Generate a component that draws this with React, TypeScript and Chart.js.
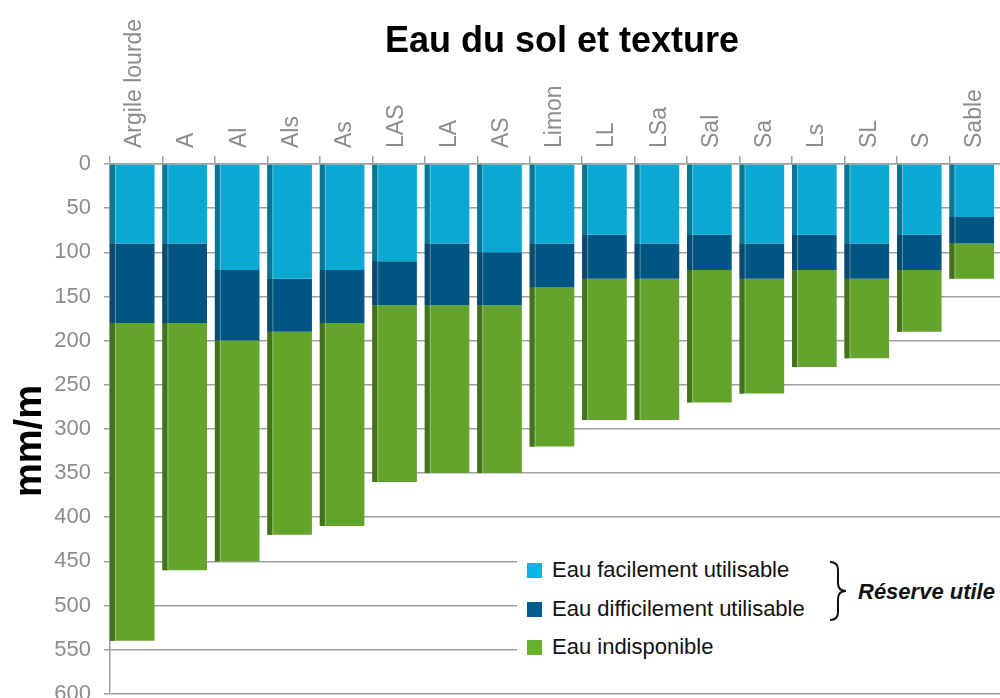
import React, { useEffect, useRef } from "react";
import { Chart, registerables } from "chart.js";

Chart.register(...registerables);

const categories = [
  "Argile lourde", "A", "Al", "Als", "As", "LAS", "LA", "AS", "Limon",
  "LL", "LSa", "Sal", "Sa", "Ls", "SL", "S", "Sable",
];
const eauFacile = [90, 90, 120, 130, 120, 110, 90, 100, 90, 80, 90, 80, 90, 80, 90, 80, 60];
const eauDifficile = [90, 90, 80, 60, 60, 50, 70, 60, 50, 50, 40, 40, 40, 40, 40, 40, 30];
const eauIndispo = [360, 280, 250, 230, 230, 200, 190, 190, 180, 160, 160, 150, 130, 110, 90, 70, 40];

const seriesLabels = ["Eau facilement utilisable", "Eau difficilement utilisable", "Eau indisponible"];
const frontColors = ["#0aa9d3", "#005683", "#63a52c"];
const sideColors = ["#0b7593", "#0a4a6e", "#44731d"];
const legendColors = ["#0ab4e4", "#015b8c", "#66b22f"];

const chartTitle = "Eau du sol et texture";
const yTitle = "mm/m";
const braceLabel = "Réserve utile";

const FONT = "'Liberation Sans', Arial, Helvetica, sans-serif";

const sidePlugin = {
  id: "side3d",
  beforeDatasetsDraw(chart: any) {
    chart.ctx.save();
    chart.ctx.translate(-4, 0);
  },
  afterDatasetsDraw(chart: any) {
    const ctx = chart.ctx;
    chart.data.datasets.forEach((ds: any, i: number) => {
      const meta = chart.getDatasetMeta(i);
      meta.data.forEach((bar: any) => {
        const left = bar.x - bar.width / 2;
        const top = Math.min(bar.y, bar.base);
        const h = Math.abs(bar.base - bar.y);
        ctx.fillStyle = sideColors[i];
        ctx.fillRect(left, top, 5, h);
        ctx.fillStyle = "rgba(255,255,255,0.35)";
        ctx.fillRect(left + 5, top, 1, h);
      });
    });
    ctx.restore();
  },
};

const titlePlugin = {
  id: "customTitle",
  afterDraw(chart: any) {
    const ctx = chart.ctx;
    const { left, right } = chart.chartArea;
    ctx.save();
    ctx.font = `bold 36px ${FONT}`;
    ctx.fillStyle = "#000";
    ctx.textAlign = "center";
    ctx.textBaseline = "middle";
    ctx.fillText(chartTitle, (left + right) / 2 + 6, 42);
    ctx.restore();
    ctx.save();
    ctx.translate(31, 441);
    ctx.rotate(-Math.PI / 2);
    ctx.font = `bold 38px ${FONT}`;
    ctx.fillStyle = "#000";
    ctx.textAlign = "center";
    ctx.textBaseline = "middle";
    ctx.fillText(yTitle, 0, 0);
    ctx.restore();
  },
};

export default function App() {
  const ref = useRef<HTMLCanvasElement>(null);

  useEffect(() => {
    const canvas = ref.current!;
    const chart = new Chart(canvas, {
      type: "bar",
      data: {
        labels: categories,
        datasets: [eauFacile, eauDifficile, eauIndispo].map((d, i) => ({
          label: seriesLabels[i],
          data: d,
          backgroundColor: frontColors[i],
          borderWidth: 0,
          barPercentage: 0.85,
          categoryPercentage: 1,
          stack: "s",
        })),
      },
      options: {
        responsive: false,
        animation: false,
        layout: { autoPadding: false, padding: { left: 0, right: 1, top: 0, bottom: 6 } },
        plugins: {
          legend: { display: false },
          title: { display: false },
          tooltip: { enabled: false },
        },
        scales: {
          x: {
            position: "top",
            stacked: true,
            grid: {
              drawOnChartArea: false,
              drawTicks: true,
              tickLength: 8,
              color: "#a0a0a0",
              lineWidth: 1.5,
            },
            border: { display: true, color: "#a0a0a0", width: 1.5 },
            ticks: {
              color: "#8c8c8c",
              font: { family: FONT, size: 23 },
              minRotation: 90,
              maxRotation: 90,
              autoSkip: false,
              padding: 8,
              labelOffset: 26,
            },
            afterFit: (s: any) => {
              s.height = 164;
            },
          },
          y: {
            reverse: true,
            stacked: true,
            min: 0,
            max: 600,
            ticks: {
              stepSize: 50,
              color: "#8c8c8c",
              font: { family: FONT, size: 22 },
              padding: 13,
            },
            grid: { color: "#a0a0a0", lineWidth: 1.5, tickLength: 6 },
            border: { display: true, color: "#a0a0a0", width: 1.5 },
            title: { display: false, text: yTitle },
            afterFit: (s: any) => {
              s.width = 110;
            },
          },
        },
      } as any,
      plugins: [sidePlugin, titlePlugin],
    });
    return () => chart.destroy();
  }, []);

  const legendTops = [570, 609, 647];

  return (
    <div
      style={{
        position: "fixed",
        left: 0,
        top: 0,
        width: 1000,
        height: 698,
        overflow: "hidden",
        background: "#fff",
        fontFamily: FONT,
      }}
    >
      <canvas ref={ref} width={1003} height={720} style={{ position: "absolute", left: 0, top: 0 }} />
      <div
        style={{
          position: "absolute",
          left: 517,
          top: 535,
          width: 483,
          height: 148,
          background: "#fff",
        }}
      >
        {seriesLabels.map((lab, i) => (
          <div
            key={lab}
            style={{
              position: "absolute",
              left: 10,
              top: legendTops[i] - 535 - 13,
              height: 26,
              display: "flex",
              alignItems: "center",
              fontSize: 22,
              color: "#111",
              whiteSpace: "nowrap",
            }}
          >
            <span
              style={{
                display: "inline-block",
                width: 15,
                height: 15,
                background: legendColors[i],
                marginRight: 10,
              }}
            />
            {lab}
          </div>
        ))}
        <svg
          width={40}
          height={70}
          style={{ position: "absolute", left: 825 - 517, top: 555 - 535 }}
        >
          <path
            d="M 5 7 Q 13 7 13 15 L 13 28 Q 13 36 21 36 Q 13 36 13 44 L 13 57 Q 13 65 5 65"
            fill="none"
            stroke="#111"
            strokeWidth={2}
          />
        </svg>
        <div
          style={{
            position: "absolute",
            left: 858 - 517,
            top: 592 - 535 - 13,
            height: 26,
            lineHeight: "26px",
            fontSize: 22,
            fontWeight: "bold",
            fontStyle: "italic",
            color: "#111",
            whiteSpace: "nowrap",
          }}
        >
          {braceLabel}
        </div>
      </div>
    </div>
  );
}
